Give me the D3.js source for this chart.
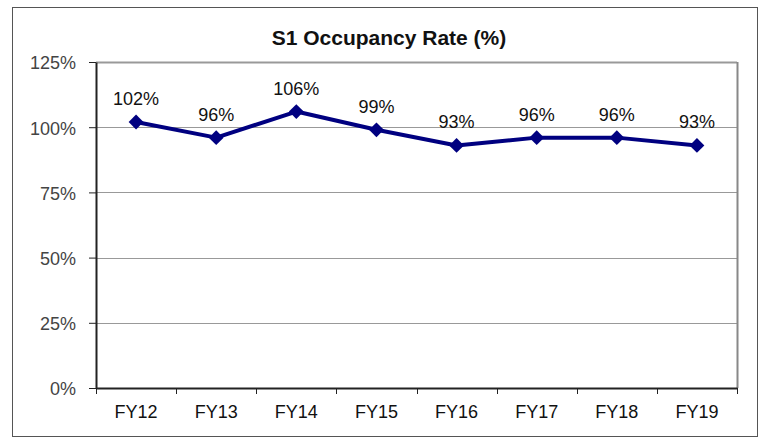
<!DOCTYPE html>
<html>
<head>
<meta charset="utf-8">
<script src="https://cdn.jsdelivr.net/npm/d3@7"></script>
<style>
  body { margin: 0; background: #fff; }
  svg { display: block; font-family: "Liberation Sans", Arial, sans-serif; }
</style>
</head>
<body>
<svg id="chart" width="762" height="441"></svg>
<script>
// chart data
const years = ['FY12', 'FY13', 'FY14', 'FY15', 'FY16', 'FY17', 'FY18', 'FY19'];
const occupancy = [102, 96, 106, 99, 93, 96, 96, 93];
const yTicks = [0, 25, 50, 75, 100, 125];

const svg = d3.select('#chart');
const margin = { top: 62, right: 25, bottom: 53, left: 96 };
const width = 762 - margin.left - margin.right;
const height = 441 - margin.top - margin.bottom;

// outer frame
svg.append('rect')
    .attr('x', 12.5).attr('y', 7.5)
    .attr('width', 745).attr('height', 429)
    .attr('fill', 'none')
    .attr('stroke', '#555')
    .attr('stroke-width', 1);

// title
svg.append('text')
    .attr('x', 389)
    .attr('y', 45)
    .attr('text-anchor', 'middle')
    .style('font-size', '21px')
    .style('font-weight', 'bold')
    .attr('fill', '#111')
    .text('S1 Occupancy Rate (%)');

const chart = svg.append('g')
    .attr('transform', `translate(${margin.left},${margin.top})`);

const xScale = d3.scaleBand().domain(years).range([0, width]);
const yScale = d3.scaleLinear().domain([0, 125]).range([height, 0]);

// gridlines
chart.append('g')
    .selectAll('line')
    .data(yTicks.filter(d => d > 0))
    .join('line')
    .attr('x1', 0).attr('x2', width)
    .attr('y1', d => Math.round(yScale(d)) + 0.5)
    .attr('y2', d => Math.round(yScale(d)) + 0.5)
    .attr('stroke', '#999')
    .attr('stroke-width', d => d === 125 ? 2 : 1);

// right border of plot area
chart.append('line')
    .attr('x1', width + 0.5).attr('x2', width + 0.5)
    .attr('y1', 0).attr('y2', height)
    .attr('stroke', '#888').attr('stroke-width', 2);

// y axis
const yAxisG = chart.append('g')
    .call(d3.axisLeft(yScale).tickValues(yTicks).tickSize(7).tickSizeOuter(0).tickFormat(d => d + '%'));
yAxisG.select('.domain').attr('stroke', '#222').attr('stroke-width', 2);
yAxisG.selectAll('.tick line').attr('stroke', '#222');
yAxisG.selectAll('.tick text')
    .attr('x', -20)
    .attr('dy', '0.38em')
    .style('font-size', '18px')
    .attr('fill', '#444');

// x axis
const xAxisG = chart.append('g')
    .attr('transform', `translate(0,${height})`)
    .call(d3.axisBottom(xScale).tickSize(0).tickSizeOuter(0));
xAxisG.select('.domain').attr('stroke', '#222').attr('stroke-width', 2);
xAxisG.selectAll('.tick text')
    .attr('y', 30)
    .attr('dy', 0)
    .style('font-size', '18px')
    .attr('fill', '#111');

// x tick marks at band edges
chart.append('g')
    .selectAll('line')
    .data(years.concat(['end']))
    .join('line')
    .attr('x1', (d, i) => Math.round(i * xScale.bandwidth()) + 0.5)
    .attr('x2', (d, i) => Math.round(i * xScale.bandwidth()) + 0.5)
    .attr('y1', height)
    .attr('y2', height + 6)
    .attr('stroke', '#222');

// line
const cx = d => xScale(d) + xScale.bandwidth() / 2;
const line = d3.line()
    .x((d, i) => cx(years[i]))
    .y(d => yScale(d));

chart.append('path')
    .datum(occupancy)
    .attr('d', line)
    .attr('fill', 'none')
    .attr('stroke', '#000080')
    .attr('stroke-width', 4)
    .attr('stroke-linejoin', 'round');

// diamond markers
chart.selectAll('.marker')
    .data(occupancy)
    .join('path')
    .attr('class', 'marker')
    .attr('d', d3.symbol().type(d3.symbolDiamond2).size(140))
    .attr('transform', (d, i) => `translate(${cx(years[i])},${yScale(d)})`)
    .attr('fill', '#000080');

// data labels
chart.selectAll('.label')
    .data(occupancy)
    .join('text')
    .attr('class', 'label')
    .attr('x', (d, i) => cx(years[i]))
    .attr('y', d => yScale(d) - 17)
    .attr('text-anchor', 'middle')
    .style('font-size', '18px')
    .attr('fill', '#111')
    .text(d => d + '%');
</script>
</body>
</html>
